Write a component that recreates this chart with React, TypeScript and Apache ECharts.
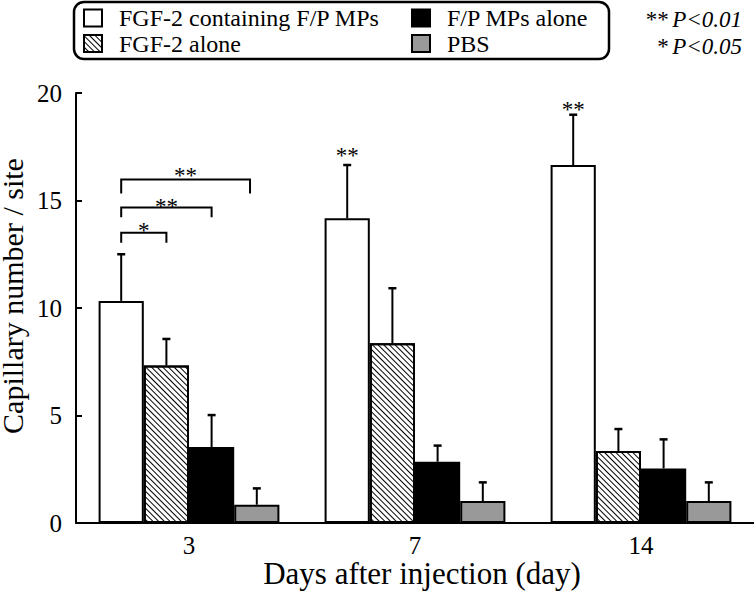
import React, { useEffect, useRef } from 'react';
import * as echarts from 'echarts';

const categories = ['3', '7', '14'];
const seriesNames = ['FGF-2 containing F/P MPs', 'FGF-2 alone', 'F/P MPs alone', 'PBS'];
const fgfMpsMean = [10.33, 14.17, 16.65];
const fgfMpsErr = [2.17, 2.48, 2.34];
const fgfAloneMean = [7.33, 8.36, 3.35];
const fgfAloneErr = [1.23, 2.56, 1.02];
const mpsAloneMean = [3.53, 2.85, 2.54];
const mpsAloneErr = [1.49, 0.75, 1.35];
const pbsMean = [0.85, 1.02, 1.02];
const pbsErr = [0.76, 0.87, 0.87];
const yMin = 0;
const yMax = 20;
const yInterval = 5;

// significance brackets (day 3): slot indices are bar positions inside the group
const bracketCat = [0, 0, 0];
const bracketFrom = [0, 0, 0];
const bracketTo = [1, 2, 2.85];
const bracketLevel = [13.5, 14.68, 15.98];
const bracketLegEnd = [13.04, 14.22, 15.33];
const bracketLabel = ['*', '**', '**'];
const bracketLabelY = [13.81, 14.92, 16.37];

// stars over single bars
const starCat = [1, 2];
const starSlot = [0, 0];
const starY = [17.27, 19.41];
const starLabel = ['**', '**'];

const pNotes = [
  ['**', 'P<0.01'],
  ['*', 'P<0.05'],
];

const FONT = 'Liberation Serif';

export default function App() {
  const ref = useRef<HTMLDivElement>(null);
  useEffect(() => {
    if (!ref.current) return;
    const chart = echarts.init(ref.current, null, { renderer: 'svg' });
    const means = [fgfMpsMean, fgfAloneMean, mpsAloneMean, pbsMean];
    const errs = [fgfMpsErr, fgfAloneErr, mpsAloneErr, pbsErr];
    const errData: number[][] = [];
    means.forEach((arr, s) => {
      arr.forEach((m, c) => {
        errData.push([c, s, m, m + errs[s][c]]);
      });
    });
    const bracketData = bracketCat.map((c, i) => [
      c,
      bracketFrom[i],
      bracketTo[i],
      bracketLevel[i],
      bracketLegEnd[i],
      bracketLabelY[i],
    ]);
    const starData = starCat.map((c, i) => [c, starSlot[i], starY[i]]);

    const border = { borderColor: '#000', borderWidth: 2 };
    const fills = [
      { color: '#fff', ...border },
      {
        color: '#fff',
        ...border,
        decal: {
          symbol: 'rect',
          symbolSize: 1,
          color: '#000',
          backgroundColor: '#fff',
          dashArrayX: [1, 0],
          dashArrayY: [0.9, 2.4],
          rotation: Math.PI / 4,
        },
      },
      { color: '#000', ...border },
      { color: '#999', ...border },
    ];

    const slotX = (api: any, cat: number, slot: number) => {
      const band = api.size([1, 0])[0];
      const bw = (band * 0.8) / 4;
      return api.coord([cat, 0])[0] + (slot - 1.5) * bw;
    };

    const legendCommon = {
      orient: 'vertical',
      itemWidth: 18,
      itemHeight: 17,
      itemGap: 1.5,
      icon: 'rect',
      selectedMode: false,
      padding: 0,
      textStyle: {
        fontSize: 24,
        fontFamily: FONT,
        color: '#000',
        lineHeight: 24,
        padding: [0, 0, 0, 12],
      },
    };

    chart.setOption({
      animation: false,
      backgroundColor: '#fff',
      textStyle: { fontFamily: FONT },
      grid: {
        left: 76,
        right: 0,
        top: 93,
        bottom: 71,
        containLabel: false,
        outerBoundsMode: 'none',
      },
      legend: [
        { ...legendCommon, left: 83, top: 6, data: [seriesNames[0], seriesNames[1]] },
        { ...legendCommon, left: 411, top: 6, data: [seriesNames[2], seriesNames[3]] },
      ],
      graphic: [
        {
          type: 'rect',
          shape: { x: 74, y: 2, width: 535, height: 57, r: 10 },
          style: { fill: 'none', stroke: '#000', lineWidth: 2.5 },
          z: 10,
        },
        ...pNotes.map((p, i) => ({
          type: 'text',
          right: 12,
          top: 8 + i * 27,
          style: {
            text: `{n|${p[0]}} {i|${p[1]}}`,
            align: 'right',
            rich: {
              n: { fontSize: 23, fontFamily: FONT, fill: '#000' },
              i: { fontSize: 23, fontFamily: FONT, fontStyle: 'italic', fill: '#000' },
            },
          },
        })),
      ],
      xAxis: {
        type: 'category',
        data: categories,
        axisLine: { lineStyle: { color: '#000', width: 2 } },
        axisTick: { show: false },
        axisLabel: { fontSize: 25, fontFamily: FONT, color: '#000', margin: 10 },
        name: 'Days after injection (day)',
        nameLocation: 'middle',
        nameMoveOverlap: false,
        nameGap: 35,
        nameTextStyle: { fontSize: 31, fontFamily: FONT, color: '#000', padding: [0, 0, 0, 14] },
      },
      yAxis: {
        type: 'value',
        min: yMin,
        max: yMax,
        interval: yInterval,
        splitLine: { show: false },
        axisLine: { show: true, lineStyle: { color: '#000', width: 2 } },
        axisTick: { show: true, inside: true, length: 6, lineStyle: { color: '#000', width: 2 } },
        axisLabel: { fontSize: 25, fontFamily: FONT, color: '#000', margin: 14 },
        name: 'Capillary number / site',
        nameLocation: 'middle',
        nameMoveOverlap: false,
        nameGap: 49,
        nameTextStyle: { fontSize: 30, fontFamily: FONT, color: '#000', padding: [0, 0, 0, 24] },
      },
      series: [
        ...seriesNames.map((name, s) => ({
          type: 'bar',
          name,
          data: means[s],
          barGap: '0%',
          barCategoryGap: '20%',
          itemStyle: fills[s],
          emphasis: { disabled: true },
        })),
        {
          type: 'custom',
          name: 'err',
          data: errData,
          encode: { x: 0, y: [2, 3] },
          z: 5,
          renderItem: (params: any, api: any) => {
            const cat = api.value(0);
            const slot = api.value(1);
            const cx = slotX(api, cat, slot);
            const y1 = api.coord([cat, api.value(2)])[1];
            const y2 = api.coord([cat, api.value(3)])[1];
            return {
              type: 'group',
              children: [
                { type: 'line', shape: { x1: cx, y1, x2: cx, y2 }, style: { stroke: '#000', lineWidth: 2 } },
                { type: 'line', shape: { x1: cx - 4, y1: y2, x2: cx + 4, y2 }, style: { stroke: '#000', lineWidth: 2.5 } },
              ],
            };
          },
        },
        {
          type: 'custom',
          name: 'brackets',
          data: bracketData,
          encode: { x: 0, y: [3, 4] },
          z: 5,
          renderItem: (params: any, api: any) => {
            const cat = api.value(0);
            const xl = slotX(api, cat, api.value(1));
            const xr = slotX(api, cat, api.value(2));
            const yl = api.coord([cat, api.value(3)])[1];
            const ye = api.coord([cat, api.value(4)])[1];
            const yt = api.coord([cat, api.value(5)])[1];
            return {
              type: 'group',
              children: [
                {
                  type: 'polyline',
                  shape: { points: [[xl, ye], [xl, yl], [xr, yl], [xr, ye]] },
                  style: { stroke: '#000', lineWidth: 2, fill: 'none' },
                },
                {
                  type: 'text',
                  x: (xl + xr) / 2,
                  y: yt + 4,
                  style: {
                    text: bracketLabel[params.dataIndex],
                    fontSize: 23,
                    fontFamily: FONT,
                    fill: '#000',
                    align: 'center',
                    verticalAlign: 'middle',
                  },
                },
              ],
            };
          },
        },
        {
          type: 'custom',
          name: 'stars',
          data: starData,
          encode: { x: 0, y: 2 },
          z: 5,
          renderItem: (params: any, api: any) => {
            const cat = api.value(0);
            const cx = slotX(api, cat, api.value(1));
            const y = api.coord([cat, api.value(2)])[1];
            return {
              type: 'text',
              x: cx,
              y: y + 4,
              style: {
                text: starLabel[params.dataIndex],
                fontSize: 23,
                fontFamily: FONT,
                fill: '#000',
                align: 'center',
                verticalAlign: 'middle',
              },
            };
          },
        },
      ],
    });
    return () => chart.dispose();
  }, []);
  return (
    <div
      ref={ref}
      style={{ position: 'fixed', left: 0, top: 0, width: 754, height: 594, background: '#fff' }}
    />
  );
}
